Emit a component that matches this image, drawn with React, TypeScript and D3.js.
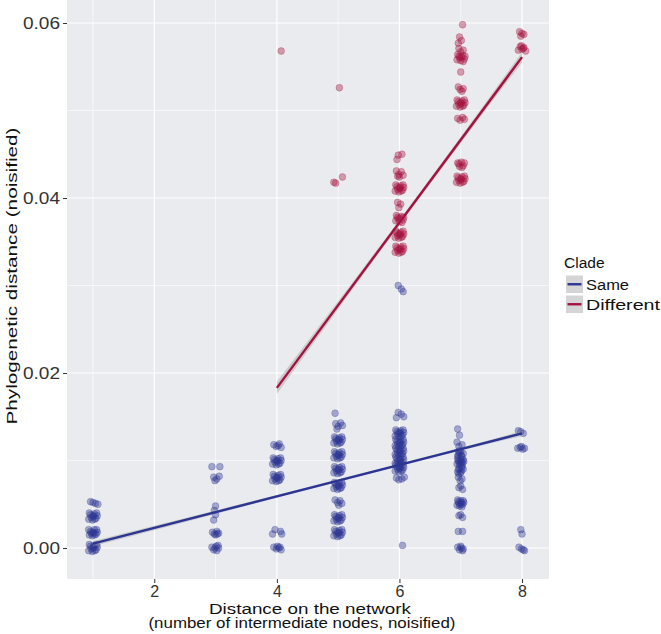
import React, { useEffect, useRef } from "react";
import * as d3 from "d3";

// axis ticks
const xTicks = [2, 4, 6, 8];
const xMinor = [1, 3, 5, 7];
const yTicks = [0, 0.02, 0.04, 0.06];
const yMinor = [0.01, 0.03, 0.05];

const cladeNames = ["Same", "Different"];
const cladeColors = ["#2c3592", "#a5123f"];

// jittered points, clade "Same" [distance, phylo distance]
const samePoints: [number, number][] = [
  // 1
  [0.93,-0.0003],[0.96,0.0002],[0.99,-0.0004],[1.02,0.0003],[1.05,-0.0002],[1.07,0.0001],[0.94,0.0004],[0.97,-0.0001],[1.0,0.0001],[1.03,-0.0003],[1.06,0.0004],[1.01,0.0000],
  [0.94,0.0015],[0.96,0.0019],[0.99,0.0014],[1.02,0.0021],[1.05,0.0016],[1.07,0.0018],[0.93,0.0021],[0.97,0.0017],[1.0,0.0018],[1.03,0.0015],[1.06,0.0021],[1.01,0.0017],
  [0.93,0.0033],[0.96,0.0038],[0.99,0.0032],[1.02,0.0039],[1.05,0.0034],[1.07,0.0037],[0.94,0.0040],[0.97,0.0035],[1.0,0.0037],[1.03,0.0033],[1.06,0.0040],[1.01,0.0036],
  [0.96,0.0053],[1.0,0.0052],[1.04,0.0051],[1.08,0.0050],
  // 3
  [2.94,0.0093],[3.07,0.0093],
  [2.97,0.0081],[3.02,0.0079],[3.06,0.0082],[2.99,0.0077],
  [3.0,0.0048],[2.98,0.0043],[3.0,0.0038],[2.97,0.0032],
  [2.95,0.0018],[2.98,0.0016],[3.02,0.0019],[3.05,0.0017],[3.0,0.0015],[3.03,0.0016],
  [2.94,0.0001],[2.97,-0.0002],[3.01,0.0002],[3.05,0.0000],[3.02,-0.0003],[2.99,0.0000],[3.04,0.0003],
  // 4
  [3.95,0.0118],[3.99,0.0116],[4.04,0.0119],[4.07,0.0115],[4.02,0.0117],
  [3.93,0.0096],[3.96,0.0101],[3.99,0.0095],[4.02,0.0102],[4.05,0.0097],[4.07,0.0100],[3.94,0.0103],[3.97,0.0098],[4.0,0.0100],[4.03,0.0096],[4.06,0.0103],[4.01,0.0099],
  [3.93,0.0077],[3.96,0.0082],[3.99,0.0076],[4.02,0.0083],[4.05,0.0078],[4.07,0.0081],[3.94,0.0084],[3.97,0.0079],[4.0,0.0081],[4.03,0.0077],[4.06,0.0084],[4.01,0.0080],
  [3.93,0.0016],[3.97,0.0021],[4.06,0.0019],[4.08,0.0016],
  [3.95,0.0001],[3.99,-0.0001],[4.03,0.0000],[4.07,-0.0002],[4.01,0.0002],[4.05,0.0001],
  // 5
  [4.95,0.0154],
  [4.96,0.0142],[5.0,0.0139],[5.04,0.0143],[5.07,0.0140],[4.98,0.0136],
  [4.93,0.0120],[4.96,0.0125],[4.99,0.0119],[5.02,0.0126],[5.05,0.0121],[5.07,0.0124],[4.94,0.0127],[4.97,0.0122],[5.0,0.0124],[5.03,0.0120],[5.06,0.0127],[5.01,0.0123],
  [4.93,0.0103],[4.96,0.0108],[4.99,0.0102],[5.02,0.0109],[5.05,0.0104],[5.07,0.0107],[4.94,0.0110],[4.97,0.0105],[5.0,0.0107],[5.03,0.0103],[5.06,0.0110],[5.01,0.0106],
  [4.93,0.0086],[4.96,0.0091],[4.99,0.0085],[5.02,0.0092],[5.05,0.0087],[5.07,0.0090],[4.94,0.0093],[4.97,0.0088],[5.0,0.0090],[5.03,0.0086],[5.06,0.0093],[5.01,0.0089],
  [4.93,0.0068],[4.96,0.0073],[4.99,0.0067],[5.02,0.0074],[5.05,0.0069],[5.07,0.0072],[4.94,0.0075],[4.97,0.0070],[5.0,0.0072],[5.03,0.0068],[5.06,0.0075],[5.01,0.0071],
  [4.95,0.0055],[4.99,0.0052],[5.03,0.0054],[5.06,0.0051],[5.01,0.0049],
  [4.93,0.0031],[4.96,0.0036],[4.99,0.0030],[5.02,0.0037],[5.05,0.0032],[5.07,0.0035],[4.94,0.0038],[4.97,0.0033],[5.0,0.0035],[5.03,0.0031],[5.06,0.0038],[5.01,0.0034],
  [4.93,0.0014],[4.96,0.0019],[4.99,0.0013],[5.02,0.0020],[5.05,0.0015],[5.07,0.0018],[4.94,0.0021],[4.97,0.0016],[5.0,0.0018],[5.03,0.0014],[5.06,0.0021],[5.01,0.0017],
  // 6
  [5.98,0.0155],[6.03,0.0153],[6.07,0.0150],[5.95,0.0149],
  [5.93,0.0128],[5.96,0.0133],[5.99,0.0127],[6.02,0.0134],[6.05,0.0129],[6.07,0.0132],[5.94,0.0135],[5.97,0.0130],[6.0,0.0132],[6.03,0.0128],[6.06,0.0135],[6.01,0.0131],
  [5.93,0.0117],[5.96,0.0122],[5.99,0.0116],[6.02,0.0123],[6.05,0.0118],[6.07,0.0121],[5.94,0.0124],[5.97,0.0119],[6.0,0.0121],[6.03,0.0117],[6.06,0.0124],[6.01,0.0120],
  [5.93,0.0107],[5.96,0.0112],[5.99,0.0106],[6.02,0.0113],[6.05,0.0108],[6.07,0.0111],[5.94,0.0114],[5.97,0.0109],[6.0,0.0111],[6.03,0.0107],[6.06,0.0114],[6.01,0.0110],
  [5.93,0.0097],[5.96,0.0102],[5.99,0.0096],[6.02,0.0103],[6.05,0.0098],[6.07,0.0101],[5.94,0.0104],[5.97,0.0099],[6.0,0.0101],[6.03,0.0097],[6.06,0.0104],[6.01,0.0100],
  [5.93,0.0088],[5.96,0.0093],[5.99,0.0087],[6.02,0.0094],[6.05,0.0089],[6.07,0.0092],[5.94,0.0095],[5.97,0.0090],[6.0,0.0092],[6.03,0.0088],[6.06,0.0095],[6.01,0.0091],
  [5.95,0.0080],[5.99,0.0078],[6.04,0.0079],[6.08,0.0081],
  [6.05,0.0003],
  [5.98,0.0300],[6.03,0.0296],[6.06,0.0293],
  // 7
  [6.95,0.0136],[6.98,0.0129],[6.94,0.0121],[7.02,0.0118],[6.97,0.0116],
  [6.95,0.0105],[6.98,0.0109],[7.01,0.0106],[7.04,0.0108],[6.97,0.0111],[7.02,0.0104],[7.0,0.0110],[6.96,0.0107],
  [6.94,0.0096],[6.96,0.0100],[6.98,0.0095],[7.0,0.0101],[7.03,0.0097],[7.05,0.0099],[6.95,0.0102],[6.97,0.0098],[7.0,0.0097],[7.02,0.0094],[7.04,0.0101],[7.01,0.0099],
  [6.95,0.0087],[6.98,0.0091],[7.01,0.0088],[7.04,0.0090],[6.97,0.0085],[7.02,0.0092],[7.0,0.0086],[6.96,0.0090],
  [6.96,0.0081],[7.02,0.0079],[6.99,0.0077],
  [6.97,0.0069],[7.03,0.0067],[7.0,0.0071],
  [6.94,0.0049],[6.96,0.0053],[6.98,0.0048],[7.0,0.0054],[7.03,0.0050],[7.05,0.0052],[6.95,0.0055],[6.97,0.0051],[7.0,0.0050],[7.02,0.0047],[7.04,0.0054],[7.01,0.0052],
  [6.97,0.0037],[7.03,0.0035],[7.0,0.0038],
  [6.96,0.0019],[7.03,0.0019],
  [6.95,0.0001],[6.98,-0.0002],[7.01,0.0000],[7.04,-0.0001],[7.0,0.0002],[7.03,-0.0003],
  // 8
  [7.94,0.0134],[7.98,0.0133],[8.02,0.0131],
  [7.93,0.0114],[7.97,0.0115],[8.01,0.0113],[8.04,0.0114],[7.99,0.0116],
  [7.98,0.0021],[8.0,0.0016],
  [7.95,0.0001],[7.99,-0.0001],[8.02,-0.0002],[8.04,-0.0003],
];

// jittered points, clade "Different"
const diffPoints: [number, number][] = [
  [4.07,0.0568],
  [5.02,0.0526],[4.96,0.0417],[4.93,0.0418],[5.07,0.0424],
  // 6
  [5.98,0.0449],[6.04,0.0450],[5.96,0.0444],
  [5.95,0.0431],[5.99,0.0427],[6.03,0.0430],[6.06,0.0426],[6.0,0.0424],[5.97,0.0425],
  [5.93,0.0408],[5.96,0.0413],[5.99,0.0407],[6.02,0.0414],[6.05,0.0409],[6.07,0.0412],[5.94,0.0415],[5.97,0.0410],[6.0,0.0412],[6.03,0.0408],[6.06,0.0415],[6.01,0.0411],
  [5.97,0.0395],[6.02,0.0393],[5.99,0.0389],
  [5.94,0.0374],[5.97,0.0378],[6.0,0.0373],[6.03,0.0379],[6.06,0.0375],[5.95,0.0380],[5.98,0.0376],[6.01,0.0377],[6.04,0.0372],[6.07,0.0378],
  [5.93,0.0355],[5.96,0.0360],[5.99,0.0354],[6.02,0.0361],[6.05,0.0356],[6.07,0.0359],[5.94,0.0362],[5.97,0.0357],[6.0,0.0359],[6.03,0.0355],[6.06,0.0362],[6.01,0.0358],
  [5.93,0.0338],[5.96,0.0343],[5.99,0.0337],[6.02,0.0344],[6.05,0.0339],[6.07,0.0342],[5.94,0.0345],[5.97,0.0340],[6.0,0.0342],[6.03,0.0338],[6.06,0.0345],[6.01,0.0341],
  // 7
  [7.03,0.0598],
  [6.98,0.0584],[7.01,0.0580],[6.96,0.0577],
  [6.97,0.0571],[7.04,0.0569],[7.0,0.0567],
  [6.94,0.0558],[6.97,0.0562],[7.0,0.0557],[7.03,0.0563],[7.06,0.0559],[6.95,0.0564],[6.98,0.0560],[7.01,0.0561],[7.04,0.0556],[7.07,0.0562],
  [7.0,0.0544],
  [6.96,0.0527],[6.99,0.0524],[7.04,0.0525],[7.02,0.0522],
  [6.93,0.0505],[6.96,0.0510],[6.99,0.0504],[7.02,0.0511],[7.05,0.0506],[7.07,0.0509],[6.94,0.0512],[6.97,0.0507],[7.0,0.0509],[7.03,0.0505],[7.06,0.0512],[7.01,0.0508],
  [6.95,0.0491],[6.99,0.0489],[7.03,0.0492],[7.06,0.0490],
  [6.95,0.0440],[6.98,0.0436],[7.01,0.0441],[7.04,0.0437],[6.97,0.0439],[7.02,0.0435],[7.06,0.0440],
  [6.93,0.0418],[6.96,0.0423],[6.99,0.0417],[7.02,0.0424],[7.05,0.0419],[7.07,0.0422],[6.94,0.0425],[6.97,0.0420],[7.0,0.0422],[7.03,0.0418],[7.06,0.0425],[7.01,0.0421],
  // 8
  [7.96,0.0590],[8.0,0.0588],[8.03,0.0587],[7.98,0.0585],
  [7.94,0.0569],[7.97,0.0573],[8.0,0.0570],[8.03,0.0572],[8.06,0.0568],[7.99,0.0574],[8.02,0.0571],
];

// linear fits and their confidence bands [x, low, high]
const sameFit: [number, number][] = [[1, 0.0005], [8, 0.0131]];
const diffFit: [number, number][] = [[4, 0.0183], [8, 0.0561]];
const sameBand: [number, number, number][] = [[1, 0.0002, 0.0008], [3, 0.0039, 0.0043], [5, 0.0076, 0.0078], [6.5, 0.0103, 0.0105], [8, 0.0128, 0.0134]];
const diffBand: [number, number, number][] = [[4, 0.0176, 0.0190], [5, 0.0273, 0.0282], [6, 0.0369, 0.0375], [7, 0.0463, 0.0470], [8, 0.0555, 0.0567]];

export default function App() {
  const ref = useRef<SVGSVGElement>(null);

  useEffect(() => {
    const W = 661, H = 634;
    const panel = { left: 67, right: 549, top: 0, bottom: 579 };
    const font = "'Liberation Sans', Arial, Helvetica, sans-serif";

    const svg = d3.select(ref.current).attr("width", W).attr("height", H);
    svg.selectAll("*").remove();

    const x = d3.scaleLinear().domain([0.576, 8.44]).range([panel.left, panel.right]);
    const y = d3.scaleLinear().domain([-0.00354, 0.06263]).range([panel.bottom, panel.top]);

    svg.append("rect")
      .attr("x", panel.left).attr("y", panel.top)
      .attr("width", panel.right - panel.left).attr("height", panel.bottom - panel.top)
      .attr("fill", "#eaebee");

    // grid
    const grid = svg.append("g");
    grid.selectAll(".ym").data(yMinor).join("line")
      .attr("x1", panel.left).attr("x2", panel.right)
      .attr("y1", d => y(d)).attr("y2", d => y(d))
      .attr("stroke", "#fff").attr("stroke-width", 0.6);
    grid.selectAll(".xm").data(xMinor).join("line")
      .attr("y1", panel.top).attr("y2", panel.bottom)
      .attr("x1", d => x(d)).attr("x2", d => x(d))
      .attr("stroke", "#fff").attr("stroke-width", 0.6);
    grid.selectAll(".yM").data(yTicks).join("line")
      .attr("x1", panel.left).attr("x2", panel.right)
      .attr("y1", d => y(d)).attr("y2", d => y(d))
      .attr("stroke", "#fff").attr("stroke-width", 1.2);
    grid.selectAll(".xM").data(xTicks).join("line")
      .attr("y1", panel.top).attr("y2", panel.bottom)
      .attr("x1", d => x(d)).attr("x2", d => x(d))
      .attr("stroke", "#fff").attr("stroke-width", 1.2);

    // points
    const pts = [samePoints, diffPoints];
    pts.forEach((data, i) => {
      svg.append("g").selectAll("circle").data(data).join("circle")
        .attr("cx", d => x(d[0])).attr("cy", d => y(d[1])).attr("r", 3.4)
        .attr("fill", cladeColors[i]).attr("fill-opacity", 0.38)
        .attr("stroke", cladeColors[i]).attr("stroke-opacity", 0.32).attr("stroke-width", 0.8);
    });

    // smooth bands + lines
    const area = d3.area<[number, number, number]>()
      .x(d => x(d[0])).y0(d => y(d[1])).y1(d => y(d[2]))
      .curve(d3.curveMonotoneX);
    const line = d3.line<[number, number]>().x(d => x(d[0])).y(d => y(d[1]));
    [sameBand, diffBand].forEach(b => {
      svg.append("path").attr("d", area(b)).attr("fill", "#999").attr("fill-opacity", 0.4);
    });
    [sameFit, diffFit].forEach((f, i) => {
      svg.append("path").attr("d", line(f)).attr("fill", "none")
        .attr("stroke", cladeColors[i]).attr("stroke-width", 2.4);
    });

    // axes
    const yAxis = svg.append("g").attr("transform", `translate(${panel.left},0)`)
      .call(d3.axisLeft(y).tickValues(yTicks).tickFormat(d3.format(".2f")).tickSize(4).tickPadding(3));
    const xAxis = svg.append("g").attr("transform", `translate(0,${panel.bottom})`)
      .call(d3.axisBottom(x).tickValues(xTicks).tickFormat(d3.format("d")).tickSize(4).tickPadding(3));
    [yAxis, xAxis].forEach(a => {
      a.select(".domain").remove();
      a.selectAll(".tick line").attr("stroke", "#333");
      a.selectAll(".tick text").attr("fill", "#333").style("font-family", font).style("font-size", "16px");
    });
    yAxis.selectAll(".tick text").attr("textLength", 37).attr("lengthAdjust", "spacingAndGlyphs");

    // titles
    const title = (txt: string, tx: number, ty: number, len: number | null, anchor = "middle", rot = 0) => {
      const t = svg.append("text").text(txt)
        .attr("transform", `translate(${tx},${ty}) rotate(${rot})`)
        .attr("text-anchor", anchor)
        .style("font-family", font).style("font-size", "15.5px").attr("fill", "#111");
      if (len) t.attr("textLength", len).attr("lengthAdjust", "spacingAndGlyphs");
      return t;
    };

    title("Distance on the network", 310, 613.5, 202);
    title("(number of intermediate nodes, noisified)", 302, 627.5, 307);
    title("Phylogenetic distance (noisified)", 17, 276, 297, "middle", -90);

    // legend
    title("Clade", 564, 268, null, "start");
    cladeNames.forEach((name, i) => {
      const top = 275.5 + i * 20;
      svg.append("rect").attr("x", 566).attr("y", top).attr("width", 17).attr("height", 17.5).attr("fill", "#d5d5d8");
      svg.append("line").attr("x1", 567.5).attr("x2", 581.5).attr("y1", top + 8.75).attr("y2", top + 8.75)
        .attr("stroke", cladeColors[i]).attr("stroke-width", 2.4);
      title(name, 586, top + 14, i === 0 ? 43 : 74, "start");
    });
  }, []);

  return <svg ref={ref} style={{ position: "absolute", left: 0, top: 0 }} />;
}
